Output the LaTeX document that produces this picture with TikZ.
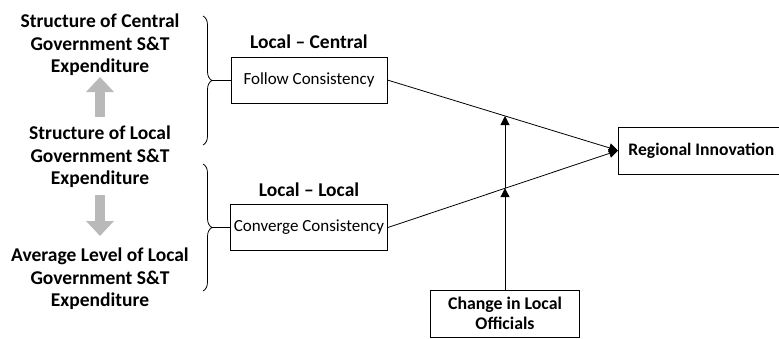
\documentclass[tikz,border=0pt]{standalone}
\usepackage{fontspec}
\setmainfont{Carlito}
\usepackage{tikz}
\usetikzlibrary{arrows.meta,calc,positioning,decorations.pathreplacing}

\begin{document}
\begin{tikzpicture}[x=1pt,y=-1pt,
    bigtext/.style={align=center,font=\fontsize{19.5}{22.5}\selectfont\bfseries},
    smallbox/.style={draw,thick,minimum width=156pt,minimum height=46pt,font=\fontsize{17}{19}\selectfont},
    bigarrow/.style={line width=10pt,gray!55,-{Triangle[length=15pt,width=27pt]}},
    conn/.style={thick,-{Triangle[length=9pt,width=9pt]}},
    brc/.style={thick,decorate,decoration={brace,amplitude=9pt}}]
    \useasboundingbox (0,0) rectangle (779,338);
    % Expenditure structures
    \node[bigtext] (central) at (100,45) {Structure of Central\\Government S\&T\\Expenditure};
    \node[bigtext] (localexp) at (100,157) {Structure of Local\\Government S\&T\\Expenditure};
    \node[bigtext] (average) at (100,279) {Average Level of Local\\Government S\&T\\Expenditure};
    \draw[bigarrow] (100,117) -- (100,77);
    \draw[bigarrow] (100,195) -- (100,236);

    % Consistency boxes
    \node[smallbox] (follow) at (309,80) {Follow Consistency};
    \node[smallbox] (converge) at (309,227.5) {Converge Consistency};
    \node[bigtext,above=4pt of follow] (lc) {Local -- Central};
    \node[bigtext,above=4pt of converge] (ll) {Local -- Local};

    % Braces
    \draw[brc] (203,16) -- (203,145);
    \draw[brc] (203,164) -- (203,291);
    \coordinate (b1) at (212,80);
    \coordinate (b2) at (212,227.5);
    \draw[thick] (b1) -- (follow.west);
    \draw[thick] (b2) -- (converge.west);

    % Outcome and moderator
    \node[draw,thick,anchor=west,minimum height=47pt,inner xsep=10pt,
          font=\fontsize{17.6}{20}\selectfont\bfseries] (region) at (618,150.5) {Regional Innovation};
    \node[draw,thick,align=center,minimum width=149pt,minimum height=47pt,
          font=\fontsize{17.8}{20}\selectfont\bfseries] (change) at (505,313.5) {Change in Local\\Officials};

    \draw[conn] (follow.east) -- (region.west);
    \draw[conn] (converge.east) -- (region.west);
    \coordinate (m1) at ($(follow.east)!0.511!(region.west)$);
    \coordinate (m2) at ($(converge.east)!0.511!(region.west)$);
    \draw[conn] (change.north) -- (change.north |- m2);
    \draw[conn] (change.north |- m2) -- (change.north |- m1);
\end{tikzpicture}
\end{document}
